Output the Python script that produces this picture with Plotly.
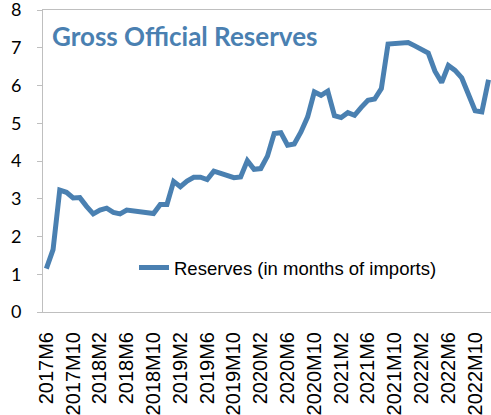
import plotly.graph_objects as go

# Monthly reserves, 2017M6 .. 2022M12 (months of imports)
months = [f"{y}M{m}" for y in range(2017, 2023) for m in range(1, 13)][5:]
reserves = [
    1.15, 1.65, 3.23, 3.17, 3.02, 3.03, 2.80, 2.60, 2.70, 2.75,
    2.64, 2.60, 2.70, 2.68, 2.67, 2.64, 2.61, 2.85, 2.85, 3.46,
    3.32, 3.47, 3.57, 3.57, 3.51, 3.73, 3.68, 3.62, 3.56, 3.58,
    4.01, 3.78, 3.80, 4.13, 4.73, 4.75, 4.42, 4.45, 4.77, 5.17,
    5.83, 5.74, 5.85, 5.20, 5.15, 5.28, 5.21, 5.42, 5.61, 5.64,
    5.92, 7.10, 7.12, 7.13, 7.14, 7.05, 6.95, 6.86, 6.38, 6.08,
    6.53, 6.40, 6.20, 5.78, 5.33, 5.30, 6.15,
]
tick_labels = months[::4]
y_ticks = list(range(0, 9))
title_text = "Gross Official Reserves"
series_name = "Reserves (in months of imports)"

line_color = "#4A80B1"
frame_color = "#BFBFBF"

x_idx = list(range(len(reserves)))

fig = go.Figure()
fig.add_trace(go.Scatter(
    x=x_idx, y=reserves, mode="lines", name=series_name,
    line=dict(color=line_color, width=5),
    showlegend=True,
))

W, H = 491, 415
L, T, B, R = 43, 10, 103, 0
plot_w = W - L - R
plot_h = H - T - B

fig.update_layout(
    width=W, height=H,
    margin=dict(l=L, r=R, t=T, b=B, pad=0, autoexpand=False),
    paper_bgcolor="white", plot_bgcolor="white",
    showlegend=True,
    legend=dict(
        x=(134 - L) / plot_w, y=(312 - 268) / plot_h,
        xanchor="left", yanchor="middle",
        bgcolor="rgba(0,0,0,0)",
        font=dict(family="Liberation Sans, Arial", size=18.5, color="black"),
        itemwidth=30,
    ),
    font=dict(family="Liberation Sans, Arial", color="black"),
)

fig.update_xaxes(
    range=[-0.5, -0.5 + plot_w / 6.7],
    tickmode="array",
    tickvals=x_idx[::4],
    ticktext=tick_labels,
    tickangle=-90,
    tickfont=dict(family="Liberation Sans, Arial", size=20, color="black"),
    showgrid=False, zeroline=False,
    showline=True, linecolor=frame_color, linewidth=1,
    mirror=True,
    ticks="",
    ticklabelstandoff=11,
    automargin=False,
)

fig.update_yaxes(
    range=[0, 8],
    tickmode="array", tickvals=y_ticks,
    tickfont=dict(family="Lato, Carlito, Calibri", size=18, color="black"),
    showgrid=False, zeroline=False,
    showline=True, linecolor=frame_color, linewidth=1,
    ticks="outside", ticklen=5, tickcolor=frame_color,
    ticklabelstandoff=12,
    ticklabeloverflow="allow",
    automargin=False,
)

fig.add_annotation(
    text=f"<b>{title_text}</b>",
    xref="paper", yref="paper",
    x=(50 - L) / plot_w, y=(312 - 36) / plot_h,
    xanchor="left", yanchor="middle",
    showarrow=False,
    font=dict(family="Lato, Carlito, Calibri", size=26, color=line_color),
)

fig.write_html("out.html")
